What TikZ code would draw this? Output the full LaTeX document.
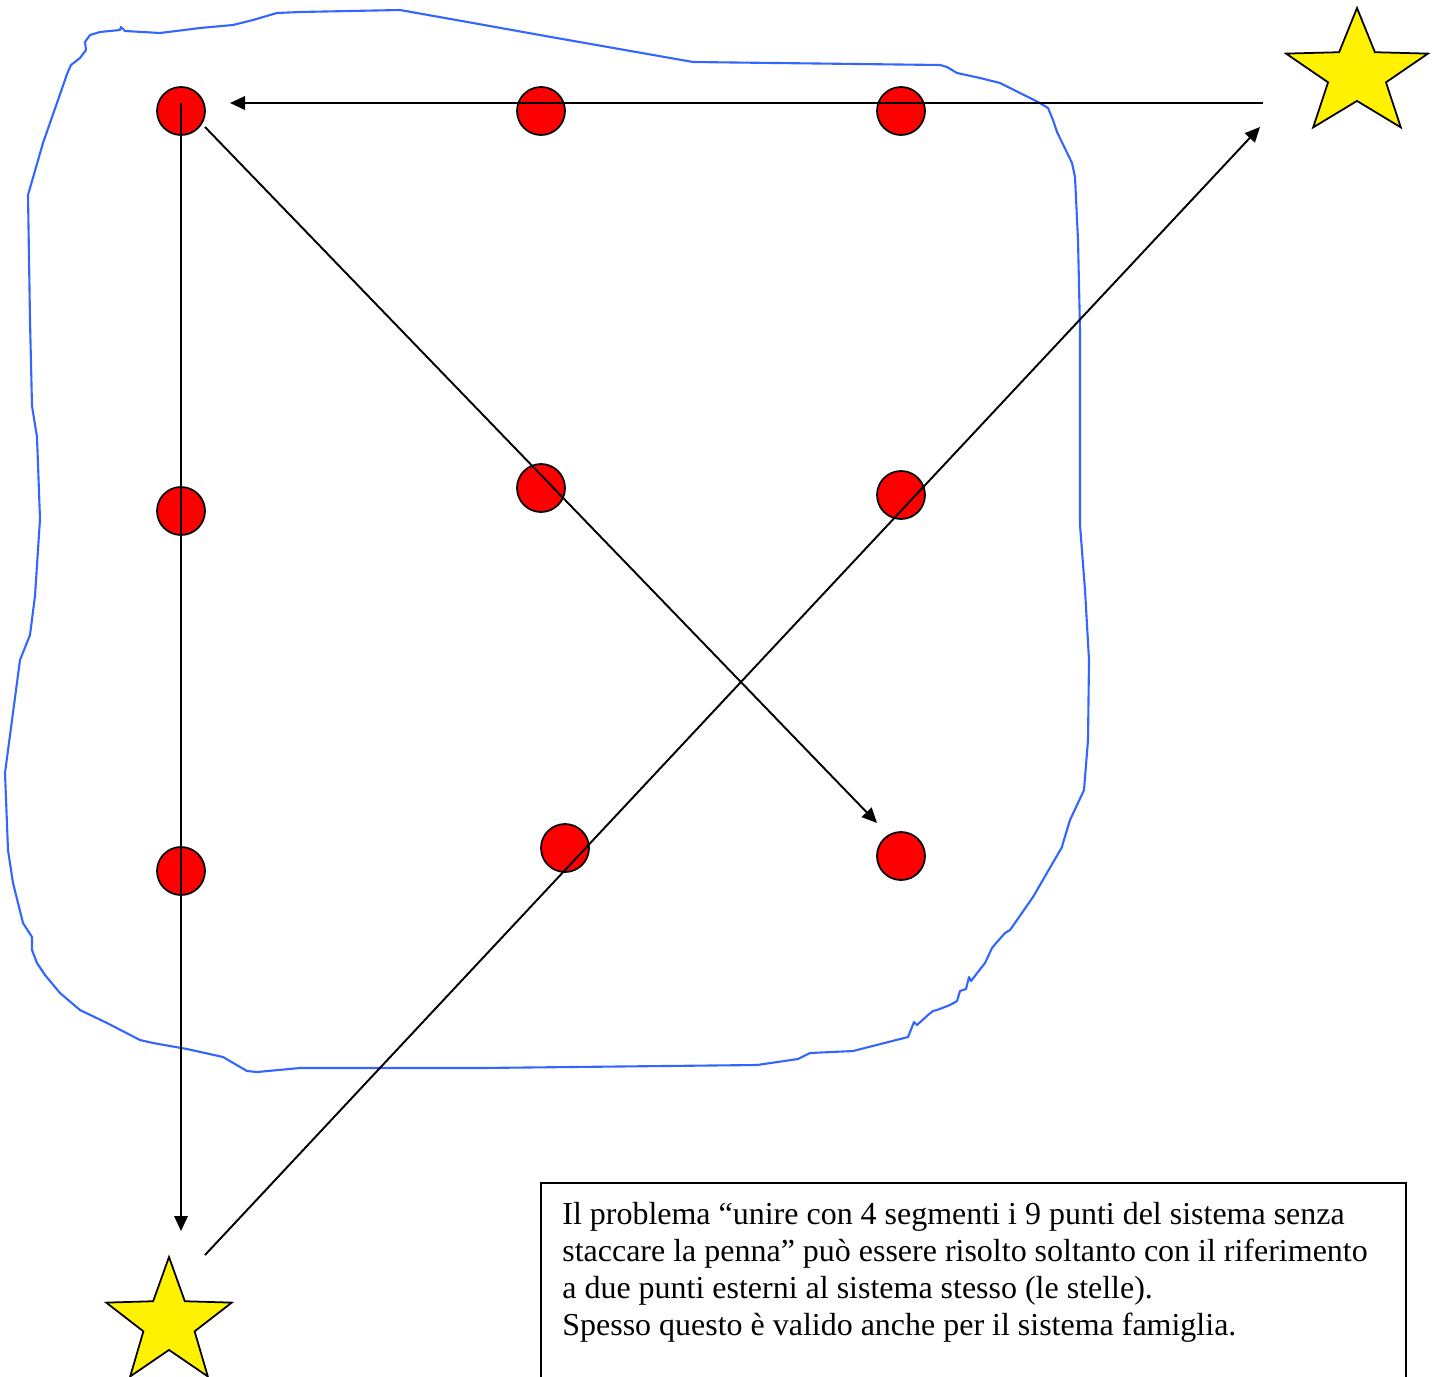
\documentclass[tikz,border=0pt]{standalone}
\usepackage{fontspec}
\setmainfont{Liberation Serif}
\usetikzlibrary{arrows.meta,shapes.geometric}
\definecolor{bordo}{RGB}{51,102,255}
\tikzset{
  dot/.style={circle,draw,fill=red,minimum size=0.96cm,inner sep=0pt,line width=1pt},
  stella/.style={star,star points=5,star point ratio=2.45,draw,fill=yellow,minimum size=2.64cm,inner sep=0pt,line width=1pt},
  arr/.style={-{Triangle[length=0.3cm,width=0.27cm]},line width=1.1pt},
  blu/.style={draw=bordo,line width=1.2pt,line join=round},
  nota/.style={font=\fontsize{18.2}{21}\selectfont,align=left,inner sep=0pt,anchor=north west}
}

\begin{document}
\begin{tikzpicture}[x=0.02cm,y=-0.02cm]
  \clip (0,0) rectangle (1443,1376);

  % freehand border of the system
  \draw[blu] (28,195) -- (43,143) -- (65,80) -- (67,74) -- (71,65) -- (80,58) -- (86,50) -- (85,42)
    -- (90,35) -- (100,32) -- (120,30) -- (121,27) -- (125,31) -- (160,33) -- (200,28) -- (233,25)
    -- (253,20) -- (277,13) -- (300,12) -- (400,10) -- (473,23) -- (551,37) -- (693,62) -- (940,65)
    -- (947,67) -- (957,73) -- (980,78) -- (1000,83) -- (1038,102) -- (1048,108) -- (1053,120)
    -- (1057,132) -- (1072,163) -- (1075,177) -- (1078,240) -- (1080,330) -- (1080,525) -- (1085,590)
    -- (1089,660) -- (1088,740) -- (1084,790) -- (1070,820) -- (1063,843) -- (1062,847) -- (1033,897)
    -- (1010,930) -- (1005,933) -- (997,942) -- (992,948) -- (985,963) -- (971,981) -- (969,977)
    -- (966,989) -- (960,991) -- (957,1001) -- (950,1005) -- (937,1010) -- (933,1011) -- (928,1015)
    -- (917,1025) -- (914,1022) -- (908,1037) -- (853,1051) -- (810,1053) -- (798,1059) -- (757,1065)
    -- (480,1068) -- (300,1068) -- (257,1072) -- (247,1071) -- (223,1057) -- (187,1049) -- (153,1043)
    -- (140,1040) -- (107,1023) -- (80,1010) -- (60,993) -- (45,975) -- (37,963) -- (32,950)
    -- (32,937) -- (23,923) -- (13,883) -- (8,850) -- (5,773) -- (20,660) -- (30,635) -- (35,596)
    -- (40,519) -- (37,437) -- (32,406) -- (30,320) -- cycle;

  % the nine points
  \node[dot] (p11) at (181,111) {};
  \node[dot] (p12) at (541,111) {};
  \node[dot] (p13) at (901,111) {};
  \node[dot] (p21) at (181,511) {};
  \node[dot] (p22) at (541,488) {};
  \node[dot] (p23) at (901,495) {};
  \node[dot] (p31) at (181,871) {};
  \node[dot] (p32) at (565,848) {};
  \node[dot] (p33) at (901,856) {};

  % the two outer points
  \node[stella,xscale=1.13,transform shape] (star_top) at (1357,74) {};
  \node[stella] (star_bot) at (169,1323) {};

  \coordinate (a_start) at (1263,103);
  \coordinate (a_end) at (230,103);
  \coordinate (b_start) at (181,103);
  \coordinate (b_end) at (181,1231);
  \coordinate (c_start) at (205,127);
  \coordinate (c_end) at (877,823);
  \coordinate (d_start) at (205,1255);
  \coordinate (d_end) at (1260,127);

  \draw[arr] (a_start) -- (a_end);
  \draw[arr] (b_start) -- (b_end);
  \draw[arr] (c_start) -- (c_end);
  \draw[arr] (d_start) -- (d_end);

  \node[nota] (testo) at (562,1202) {Il problema “unire con 4 segmenti i 9 punti del sistema senza\\
    staccare la penna” può essere risolto soltanto con il riferimento\\
    a due punti esterni al sistema stesso (le stelle).\\
    Spesso questo è valido anche per il sistema famiglia.};
  \draw[line width=0.8pt] (541,1390) |- (1406,1183) -- (1406,1390);
\end{tikzpicture}
\end{document}
